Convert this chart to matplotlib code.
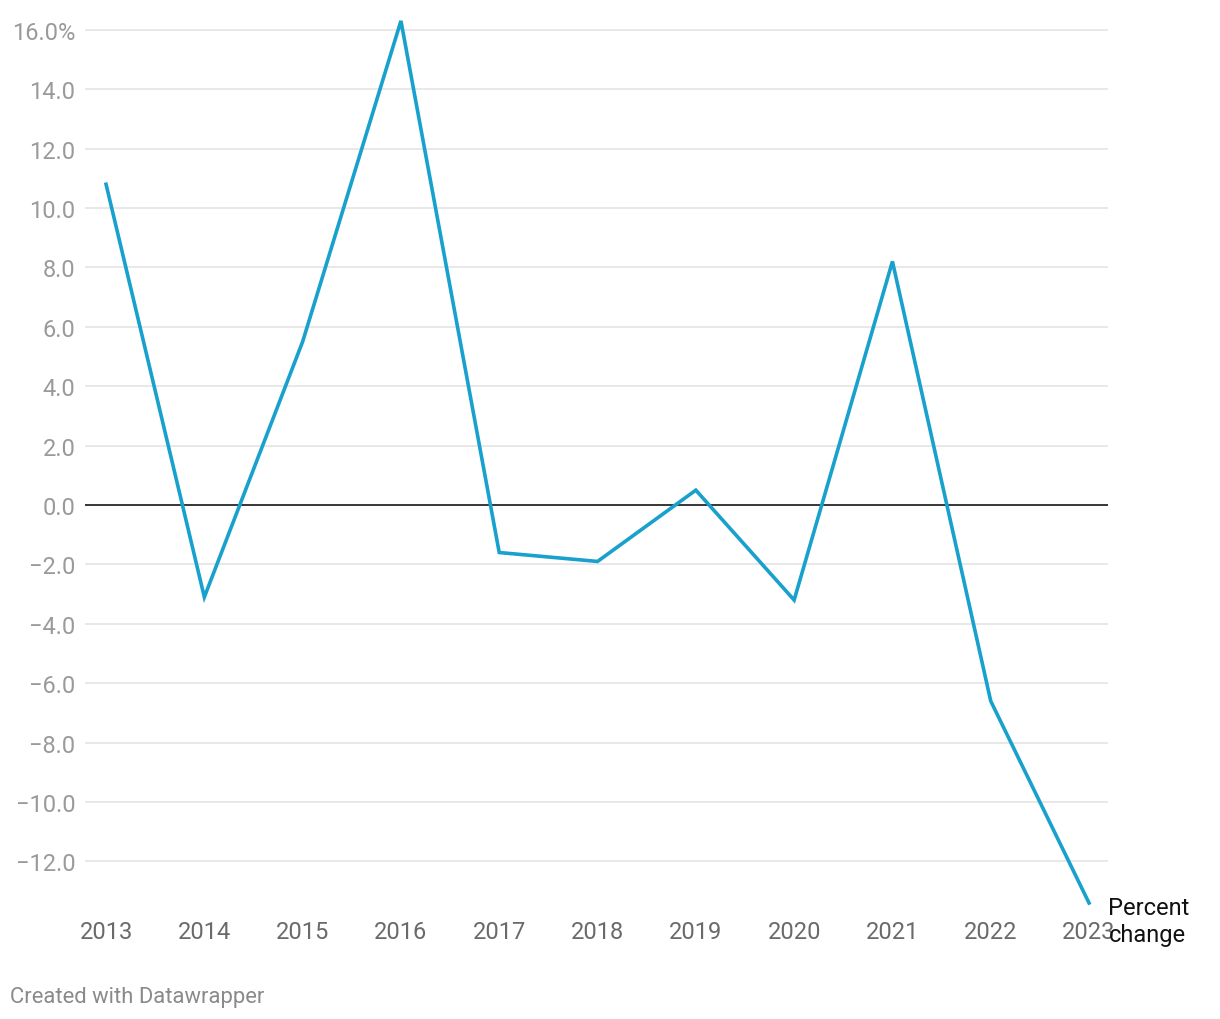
import matplotlib
matplotlib.use("Agg")
import matplotlib.pyplot as plt

plt.rcParams["font.family"] = ["Roboto", "DejaVu Sans"]

years = [2013, 2014, 2015, 2016, 2017, 2018, 2019, 2020, 2021, 2022, 2023]
pct_change = [10.8, -3.1, 5.5, 16.3, -1.6, -1.9, 0.5, -3.2, 8.2, -6.6, -13.4]
yticks = [-12, -10, -8, -6, -4, -2, 0, 2, 4, 6, 8, 10, 12, 14, 16]
series_label = "Percent\nchange"

fig = plt.figure(figsize=(12.2, 10.2), dpi=100)
W, H = 1220, 1020
left, right, top, bottom = 85, 1108, 21, 904
ax = fig.add_axes([left / W, 1 - bottom / H, (right - left) / W, (bottom - top) / H])

ax.set_xlim(2012.786, 2023.193)
ax.set_ylim(-13.4, 16.33)

for yt in yticks:
    if yt == 0:
        ax.axhline(0, color="#000000", lw=1.1, zorder=2)
    else:
        ax.axhline(yt, color="#e4e4e4", lw=1.2, zorder=1)

ax.plot(years, pct_change, color="#18a1cd", lw=2.6, clip_on=False, zorder=3,
        solid_joinstyle="miter")

def fmt(v):
    s = f"{abs(v):.1f}"
    if v < 0:
        s = "\u2212" + s
    if v == 16:
        s += "%"
    return s

ax.set_yticks(yticks)
ax.set_yticklabels([fmt(v) for v in yticks])
ax.set_xticks(years)
ax.set_xticklabels([str(y) for y in years])
ax.tick_params(axis="y", length=0, pad=7, labelsize=17, labelcolor="#9a9a9a")
ax.tick_params(axis="x", length=0, pad=12.5, labelsize=17, labelcolor="#6a6a6a")
for s in ax.spines.values():
    s.set_visible(False)

ax.annotate(series_label, xy=(years[-1], pct_change[-1]), xytext=(14, 5),
            textcoords="offset points", ha="left", va="top", fontsize=17,
            color="#111111", linespacing=1.2, annotation_clip=False)

fig.text(10 / W, 1 - 998 / H, "Created with Datawrapper", fontsize=15.8,
         color="#8a8a8a", ha="left", va="center")

fig.savefig("out.png", dpi=100, facecolor="white")
